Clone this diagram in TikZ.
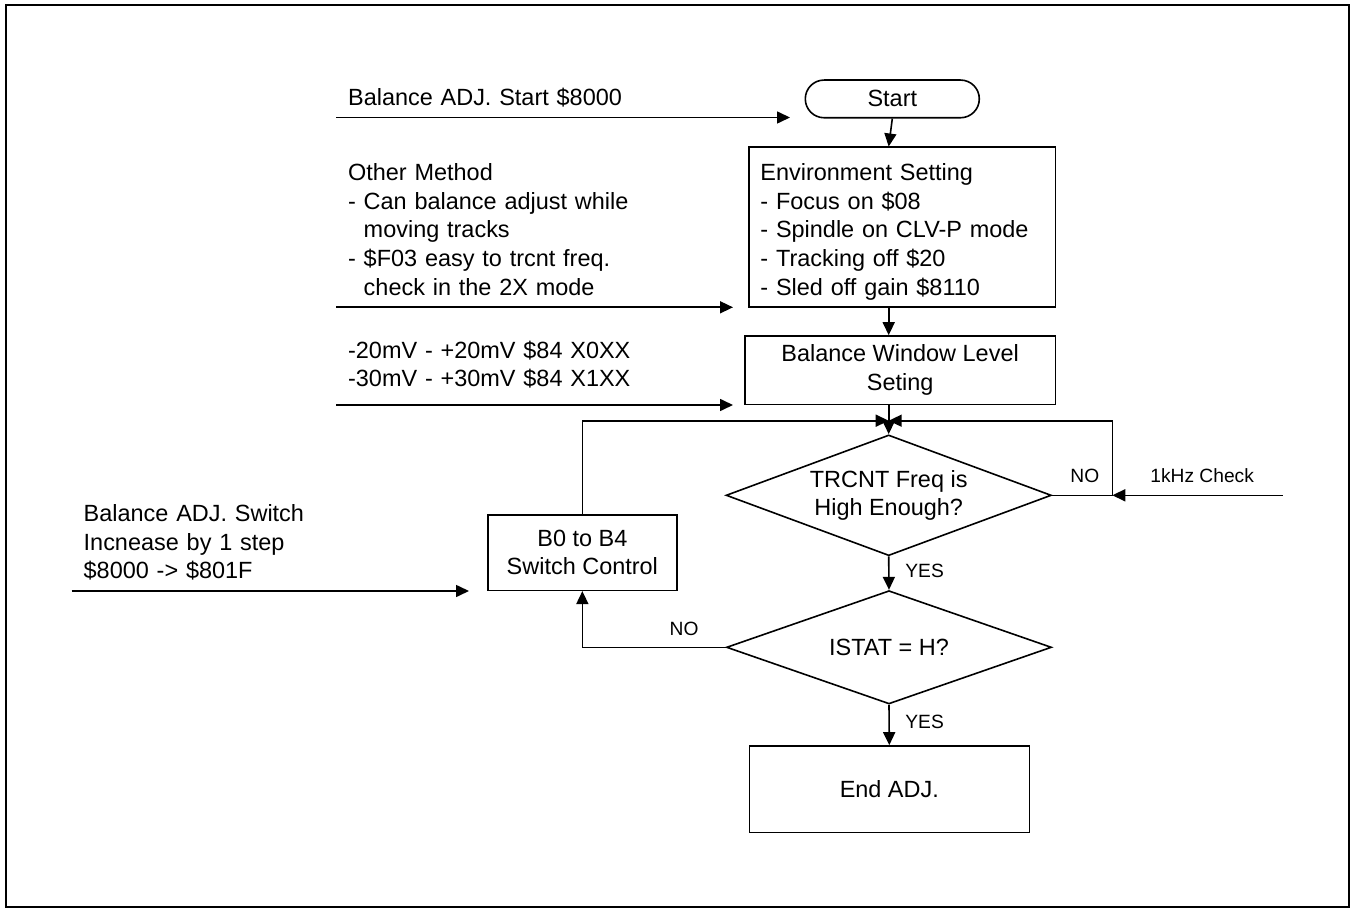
\documentclass[tikz,border=0pt]{standalone}
\usepackage{fontspec}
\setmainfont{Liberation Sans}
\usetikzlibrary{shapes.geometric,arrows.meta}
\tikzset{
  ln/.style={line width=0.8pt},
  arr/.style={ln,-{Triangle[length=6.5pt,width=6pt]}},
  boxn/.style={draw,ln,rectangle,inner sep=0pt},
  dia/.style={draw,ln,diamond,inner sep=0pt,shape aspect=2.69,align=center,
    font=\fontsize{11.73}{14.3}\selectfont},
  maintext/.style={font=\fontsize{11.73}{14.3}\selectfont},
  blocktext/.style={maintext,inner sep=0pt,anchor=base west,text width=240pt,align=left},
  lab/.style={font=\fontsize{9.6}{11.5}\selectfont,inner sep=0pt,anchor=base west}
}
\begin{document}
\begin{tikzpicture}[x=0.5pt,y=-0.5pt]
\useasboundingbox (0,0) rectangle (1355,909);
\draw[line width=1pt] (6,5) rectangle (1349,907);

% flow nodes
\node[boxn,rounded corners=9.4pt,minimum width=87pt,minimum height=18.85pt,maintext] (start) at (892.3,98.9) {Start};
\node[boxn,minimum width=153.15pt,minimum height=80pt] (env) at (902.15,227.3) {};
\node[blocktext] (envtxt) at (760,180.7) {Environment Setting\\- Focus on \$08\\- Spindle on CLV-P mode\\- Tracking off \$20\\- Sled off gain \$8110};
\node[boxn,minimum width=155.15pt,minimum height=34.15pt,maintext,align=center] (bal) at (900.15,370.15) {Balance Window Level\\Seting};
\node[dia,minimum width=162.65pt,minimum height=60.35pt] (d1) at (888.7,495.3) {TRCNT Freq is\\High Enough?};
\node[dia,minimum width=162.5pt,minimum height=56.65pt] (d2) at (889,647.3) {ISTAT = H?};
\node[boxn,minimum width=140pt,minimum height=43.15pt,maintext] (endb) at (889.3,789.15) {End ADJ.};
\node[boxn,minimum width=94.65pt,minimum height=37.8pt,maintext,align=center] (b0) at (582.35,552.5) {B0 to B4\\Switch Control};

% annotation texts
\node[blocktext] (t1) at (347.7,106) {Balance ADJ. Start \$8000};
\node[blocktext] (t2) at (347.7,180.7) {Other Method\\- Can balance adjust while\\\phantom{-}\ moving tracks\\- \$F03 easy to trcnt freq.\\\phantom{-}\ check in the 2X mode};
\node[blocktext] (t3) at (347.7,358) {-20mV - +20mV \$84 X0XX\\-30mV - +30mV \$84 X1XX};
\node[blocktext] (t4) at (83.3,521.7) {Balance ADJ. Switch\\Incnease by 1 step\\\$8000 -> \$801F};

% labels
\node[lab] (no1) at (1070,482.3) {NO};
\node[lab] (khz) at (1150,482.3) {1kHz Check};
\node[lab] (yes1) at (905,577.3) {YES};
\node[lab] (yes2) at (905,728.8) {YES};
\node[lab] (no2) at (669.3,635) {NO};

% free-end coordinates
\coordinate (a1s) at (336,117.5);
\coordinate (a1e) at (790,117.5);
\coordinate (a2s) at (336,307.3);
\coordinate (a2e) at (733,307.3);
\coordinate (a3s) at (336,405);
\coordinate (a3e) at (733,405);
\coordinate (a4s) at (71.7,591);
\coordinate (a4e) at (469,591);
\coordinate (jn) at (888.7,420.7);
\coordinate (rt) at (1112.3,420.7);
\coordinate (khzs) at (1282.7,495.3);

% input arrows
\draw[arr] (a1s) -- (a1e);
\draw[arr] (a2s) -- (a2e);
\draw[arr] (a3s) -- (a3e);
\draw[arr] (a4s) -- (a4e);

% flow connectors
\draw[arr] (start.south) -- (env.north -| d1.north);
\draw[arr] (env.south -| d1.north) -- (bal.north -| d1.north);
\draw[arr] (bal.south -| d1.north) -- (d1.north);
\draw[arr] (d1.east) -| (rt) -- (jn);
\draw[arr] (b0.north) |- (jn);
\draw[arr] (khzs) -- (d1.east -| rt);
\draw[arr] (d1.south) -- (d2.north);
\draw[arr] (d2.west) -| (b0.south);
\draw[arr] (d2.south) -- (endb.north);
\end{tikzpicture}
\end{document}
